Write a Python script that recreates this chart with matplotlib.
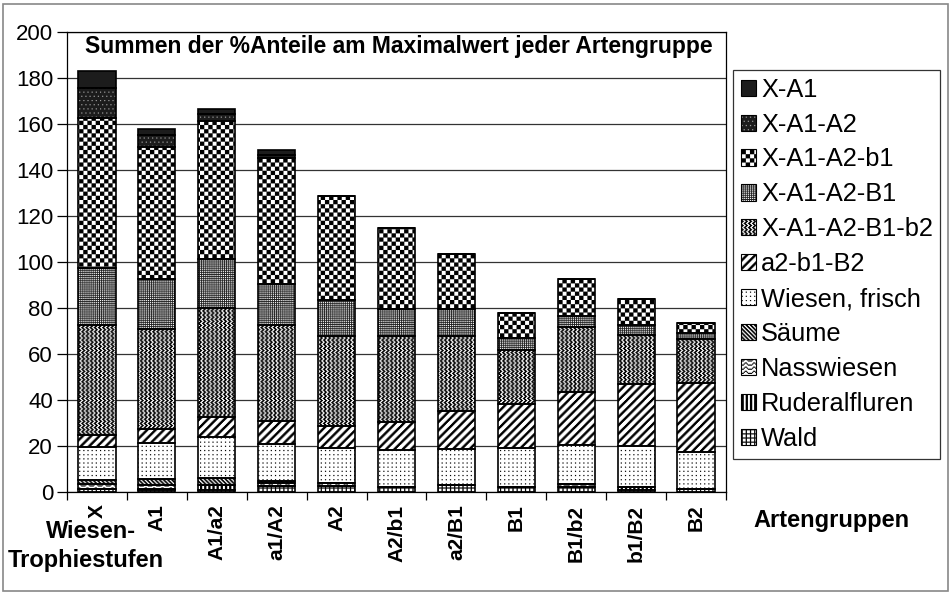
import numpy as np
import matplotlib
matplotlib.use('Agg')
import matplotlib.pyplot as plt
import matplotlib.hatch as mhatch
from matplotlib.path import Path
from matplotlib.patches import Patch, Rectangle

plt.rcParams['font.family'] = ['Liberation Sans', 'DejaVu Sans']
plt.rcParams['hatch.linewidth'] = 0.1

categories = ['X', 'A1', 'A1/a2', 'a1/A2', 'A2', 'A2/b1', 'a2/B1', 'B1', 'B1/b2', 'b1/B2', 'B2']

# stacked from bottom to top
wald = [1.5, 1.0, 1.0, 2.5, 2.5, 2.0, 3.0, 2.3, 2.2, 0.8, 1.2]
ruderalfluren = [0, 0.5, 2.0, 0, 0, 0, 0, 0, 0, 1.2, 0]
nasswiesen = [2.0, 1.5, 0, 1.5, 1.5, 0, 0, 0, 1.2, 0, 0]
saeume = [1.7, 2.5, 3.0, 0.7, 0, 0, 0, 0, 0, 0, 0]
wiesen_frisch = [14.5, 16.0, 18.0, 16.3, 15.0, 16.3, 15.5, 16.7, 17.0, 18.0, 16.3]
a2_b1_B2 = [5.0, 6.0, 8.5, 10.0, 9.7, 12.3, 16.7, 19.3, 23.2, 27.0, 30.0]
x_a1_a2_b1_b2 = [48.0, 43.5, 47.5, 41.5, 39.0, 37.2, 32.6, 23.4, 28.0, 21.3, 18.9]
x_a1_a2_B1 = [24.6, 21.5, 21.5, 18.0, 15.8, 11.6, 11.6, 5.1, 4.9, 4.3, 2.6]
x_a1_a2_b1 = [65.5, 57.5, 60.0, 54.5, 45.0, 35.5, 23.9, 10.9, 16.0, 11.2, 4.6]
x_a1_a2 = [13.0, 5.0, 3.0, 1.5, 0.3, 0, 0, 0, 0, 0, 0]
x_a1 = [7.4, 3.0, 2.0, 2.2, 0, 0, 0, 0, 0, 0, 0]

series = [
    ('Wald', wald),
    ('Ruderalfluren', ruderalfluren),
    ('Nasswiesen', nasswiesen),
    ('Säume', saeume),
    ('Wiesen, frisch', wiesen_frisch),
    ('a2-b1-B2', a2_b1_B2),
    ('X-A1-A2-B1-b2', x_a1_a2_b1_b2),
    ('X-A1-A2-B1', x_a1_a2_B1),
    ('X-A1-A2-b1', x_a1_a2_b1),
    ('X-A1-A2', x_a1_a2),
    ('X-A1', x_a1),
]

# 8x8 fill patterns like the old Excel ones
r, c = np.mgrid[0:8, 0:8]


def rows(*lines):
    return np.array([[ch == '1' for ch in ln] for ln in lines])


bm_wald = (r % 4 == 0) | (c % 4 == 0)
bm_ruderal = c % 4 < 2
bm_nass = rows('00011000', '00100100', '11000011', '00000000',
               '00011000', '00100100', '11000011', '00000000')
bm_saeume = (c - r) % 4 < 2
bm_wiesen = (r % 4 == 0) & (c % 4 == 0)
bm_diag = (r + c) % 8 < 3
bm_zig = rows('11001100', '10011001', '00110011', '10011001',
              '11001100', '10011001', '00110011', '10011001')
bm_b1 = (r % 2 == 0) & (c % 2 == 0)
bm_checker = (r // 4 + c // 4) % 2 == 0
bm_a2 = (r % 4 == 0) & (c % 4 == ((r // 4) * 2) % 4)

REPS = 12


def make_hatch(key, bm):
    tile = np.tile(bm, (REPS, REPS))
    n = tile.shape[0]
    cell = 1.0 / n
    verts = []
    for i in range(n):
        j = 0
        while j < n:
            if tile[i, j]:
                k = j
                while k < n and tile[i, k]:
                    k += 1
                x0, x1 = j * cell, k * cell
                y0, y1 = 1 - (i + 1) * cell, 1 - i * cell
                verts += [(x0, y0), (x1, y0), (x1, y1), (x0, y1), (x0, y0)]
                j = k
            else:
                j += 1
    verts = np.array(verts)
    codes = np.tile([Path.MOVETO, Path.LINETO, Path.LINETO, Path.LINETO,
                     Path.CLOSEPOLY], len(verts) // 5)

    class BitmapHatch(mhatch.HatchPatternBase):
        def __init__(self, hatch, density):
            self.num_vertices = len(verts) if key in hatch else 0

        def set_vertices_and_codes(self, vertices, codes_out):
            vertices[:] = verts
            codes_out[:] = codes

    return BitmapHatch


# name -> (face, ink, hatch key, bitmap)
styles = {
    'Wald': ('white', 'black', '+', bm_wald),
    'Ruderalfluren': ('white', 'black', '|', bm_ruderal),
    'Nasswiesen': ('white', 'black', 'o', bm_nass),
    'Säume': ('white', 'black', '\\', bm_saeume),
    'Wiesen, frisch': ('white', 'black', '.', bm_wiesen),
    'a2-b1-B2': ('white', 'black', '/', bm_diag),
    'X-A1-A2-B1-b2': ('white', 'black', 'x', bm_zig),
    'X-A1-A2-B1': ('#1c1c1c', 'white', 'O', bm_b1),
    'X-A1-A2-b1': ('white', 'black', 'X', bm_checker),
    'X-A1-A2': ('#1c1c1c', '#a0a0a0', '*', bm_a2),
    'X-A1': ('#1c1c1c', '#1c1c1c', None, None),
}
mhatch._hatch_types[:] = [make_hatch(s[2], s[3]) for s in styles.values() if s[2]]

fig = plt.figure(figsize=(9.52, 5.94), dpi=100)
ax = fig.add_axes([67 / 952, 1 - 492 / 594, 659 / 952, 460 / 594])

x = np.arange(len(categories))
width = 0.62
bottom = np.zeros(len(categories))
handles = {}
for name, vals in series:
    face, ink, key, bm = styles[name]
    vals = np.array(vals, dtype=float)
    ax.bar(x, vals, width, bottom=bottom, color=face, edgecolor=ink,
           hatch=key, linewidth=0, zorder=2)
    ax.bar(x, vals, width, bottom=bottom, fill=False, edgecolor='black',
           linewidth=1.2, zorder=3)
    bottom += vals
    handles[name] = (Patch(facecolor=face, edgecolor=ink, hatch=key, linewidth=0),
                     Patch(fill=False, edgecolor='black', linewidth=0.8))

ax.set_xlim(-0.5, len(categories) - 0.5)
ax.set_ylim(0, 200)
ax.set_yticks(np.arange(0, 201, 20))
ax.yaxis.grid(True, color='#333333', linewidth=0.9)
ax.set_axisbelow(True)
ax.tick_params(axis='y', direction='out', length=7, width=0.9, labelsize=16, pad=3)
for s in ax.spines.values():
    s.set_linewidth(0.9)

ax.set_xticks(x)
ax.set_xticklabels(categories, rotation=90, fontweight='bold', fontsize=15,
                   va='top', ha='center')
ax.tick_params(axis='x', length=0, pad=9)
ax.set_xticks(np.arange(-0.5, len(categories)), minor=True)
ax.tick_params(axis='x', which='minor', direction='out', length=6, width=0.9)

ax.text(0.504, 0.968, 'Summen der %Anteile am Maximalwert jeder Artengruppe',
        transform=ax.transAxes, ha='center', va='center', fontsize=16.5,
        fontweight='bold')

names_top = [n for n, _ in series][::-1]
leg = fig.legend([handles[n] for n in names_top], names_top,
                 loc='upper left', bbox_to_anchor=(733 / 952, 1 - 70 / 594),
                 fontsize=18.3, frameon=True, fancybox=False, edgecolor='black',
                 handlelength=0.6, handleheight=0.6, handletextpad=0.2,
                 labelspacing=0.43, borderpad=0.3, borderaxespad=0)
leg.get_frame().set_linewidth(0.9)

fig.text(91 / 952, 1 - 531 / 594, 'Wiesen-', ha='center', va='center',
         fontsize=17, fontweight='bold')
fig.text(86 / 952, 1 - 561 / 594, 'Trophiestufen', ha='center', va='center',
         fontsize=17, fontweight='bold')
fig.text(831 / 952, 1 - 521 / 594, 'Artengruppen', ha='center', va='center',
         fontsize=17, fontweight='bold')

fig.patches.append(Rectangle((3 / 952, 3 / 594), 945 / 952, 587 / 594,
                             transform=fig.transFigure, fill=False,
                             edgecolor='#888888', linewidth=1.2))

fig.savefig('out.png', dpi=100)
